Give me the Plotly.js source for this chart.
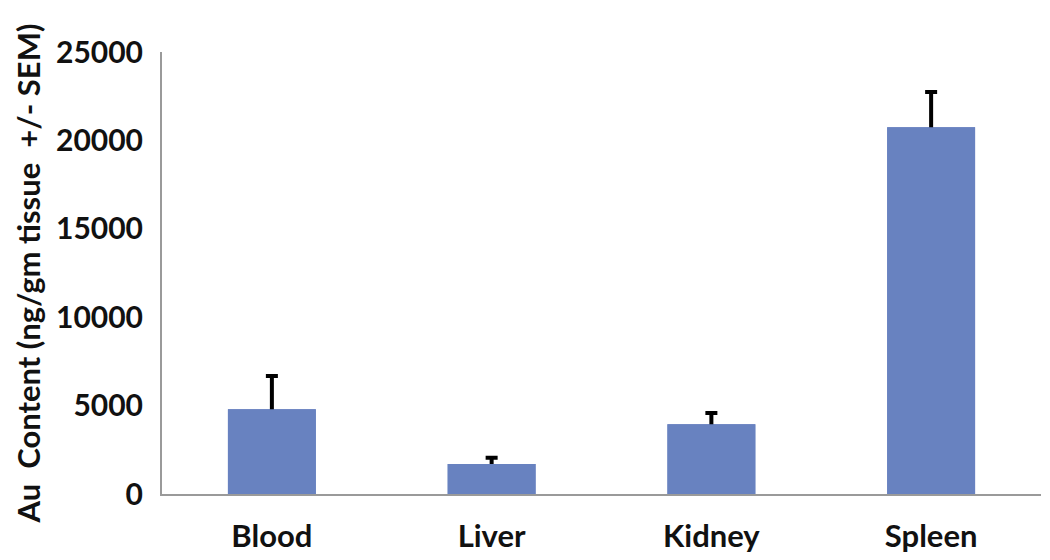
<!DOCTYPE html>
<html>
<head>
<meta charset="utf-8">
<script src="https://cdn.plot.ly/plotly-3.0.1.min.js"></script>
<style>html,body{margin:0;padding:0;background:#fff;}#chart{width:1050px;height:560px;}</style>
</head>
<body>
<div id="chart"></div>
<script>
const categories = ["Blood", "Liver", "Kidney", "Spleen"];
const values = [4800, 1700, 3950, 20750];
const semUpper = [1870, 350, 630, 1990];
const yTickValues = [0, 5000, 10000, 15000, 20000, 25000];
const yTickLabels = ["0", "5000", "10000", "15000", "20000", "25000"];
const yTitle = "Au&nbsp;&nbsp;Content (ng/gm tissue&nbsp;&nbsp;+/- SEM)";

const fontFamily = "Lato, 'Open Sans', sans-serif";
const barColor = "#6882c0";

// Bars with SEM error bars (lower half of each error bar is hidden by the overlay bars)
const errTrace = {
  type: "bar",
  x: categories,
  y: values,
  xaxis: "x",
  yaxis: "y",
  marker: {color: barColor, line: {width: 0}},
  error_y: {
    type: "data",
    symmetric: true,
    array: semUpper,
    color: "#000000",
    thickness: 4,
    width: 6
  },
  hoverinfo: "skip"
};

// Same bars drawn again on an overlaying axis so only the upward SEM shows
const coverTrace = {
  type: "bar",
  x: categories,
  y: values,
  xaxis: "x2",
  yaxis: "y",
  marker: {color: barColor, line: {width: 0}},
  hoverinfo: "skip"
};

const tickFont = {family: fontFamily, size: 30, color: "#111111", weight: "bold"};

const layout = {
  width: 1050,
  height: 560,
  margin: {l: 161.5, r: 8.5, t: 52, b: 66, pad: 0},
  paper_bgcolor: "#ffffff",
  plot_bgcolor: "#ffffff",
  showlegend: false,
  bargap: 0.6,
  font: {family: fontFamily, color: "#111111"},
  xaxis: {
    type: "category",
    showline: true,
    linecolor: "#9a9a9a",
    linewidth: 2,
    showgrid: false,
    zeroline: false,
    ticks: "",
    ticklabelstandoff: 14,
    tickfont: {family: fontFamily, size: 31, color: "#111111", weight: "bold"}
  },
  xaxis2: {
    type: "category",
    overlaying: "x",
    matches: "x",
    visible: false,
    showgrid: false,
    zeroline: false
  },
  yaxis: {
    range: [0, 25000],
    tickvals: yTickValues,
    ticktext: yTickLabels,
    showline: true,
    linecolor: "#9a9a9a",
    linewidth: 2,
    showgrid: false,
    zeroline: false,
    ticks: "",
    ticklabelstandoff: 11,
    tickfont: tickFont,
    title: {text: yTitle, standoff: 6, font: {family: fontFamily, size: 31, color: "#111111", weight: "bold"}}
  }
};

Plotly.newPlot("chart", [errTrace, coverTrace], layout, {displayModeBar: false, staticPlot: true});
</script>
</body>
</html>
